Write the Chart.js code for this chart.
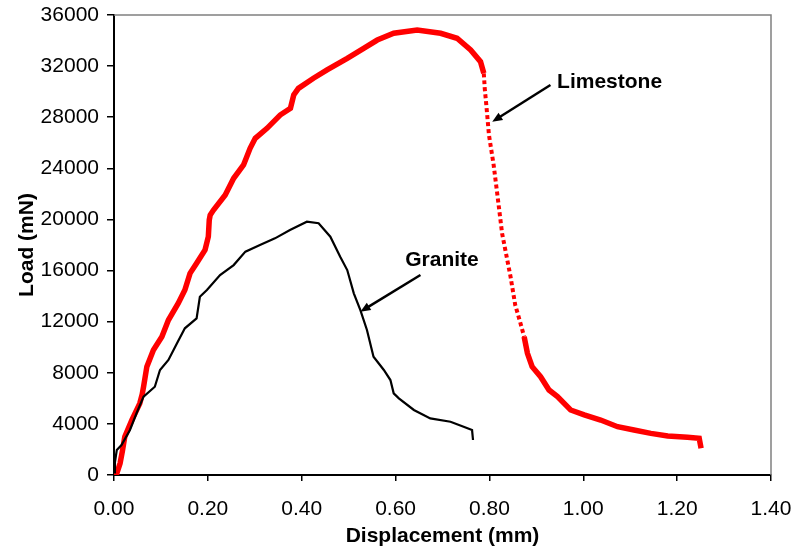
<!DOCTYPE html>
<html>
<head>
<meta charset="utf-8">
<script src="https://cdn.jsdelivr.net/npm/chart.js@4"></script>
<style>
  html, body { margin: 0; padding: 0; background: #fff; }
  #wrap { width: 804px; height: 548px; }
</style>
</head>
<body>
<div id="wrap"><canvas id="loadChart"></canvas></div>
<script>
// Limestone curve (displacement mm, load mN)
const limeX = [0.000, 0.006, 0.013, 0.018, 0.023, 0.038, 0.055, 0.060, 0.063, 0.070, 0.084, 0.102, 0.116, 0.137, 0.151, 0.162, 0.176, 0.194, 0.201, 0.203, 0.205, 0.212, 0.237, 0.255, 0.276, 0.290, 0.301, 0.326, 0.354, 0.376, 0.383, 0.393, 0.425, 0.454, 0.497, 0.532, 0.561, 0.596, 0.646, 0.696, 0.731, 0.760, 0.781, 0.788, 0.790, 0.794, 0.799, 0.809, 0.817, 0.827, 0.845, 0.855, 0.866, 0.874, 0.881, 0.891, 0.909, 0.927, 0.945, 0.973, 1.002, 1.037, 1.073, 1.108, 1.144, 1.180, 1.222, 1.247, 1.251];
const limeY = [0, 130, 920, 1900, 3000, 4300, 5610, 6300, 6910, 8480, 9780, 10820, 12130, 13440, 14480, 15780, 16570, 17610, 18650, 19960, 20350, 20740, 21910, 23220, 24260, 25570, 26350, 27130, 28170, 28700, 29740, 30260, 31050, 31700, 32610, 33390, 34040, 34570, 34830, 34570, 34180, 33260, 32350, 31440, 30260, 28700, 26610, 24260, 21910, 18910, 15520, 13300, 11900, 10820, 9520, 8480, 7690, 6650, 6130, 5090, 4700, 4300, 3780, 3520, 3260, 3050, 2950, 2870, 2090];

// Granite curve
const graniteX = [0.000, 0.002, 0.006, 0.016, 0.034, 0.048, 0.063, 0.087, 0.098, 0.116, 0.134, 0.151, 0.176, 0.183, 0.198, 0.226, 0.255, 0.280, 0.311, 0.343, 0.375, 0.411, 0.436, 0.461, 0.482, 0.497, 0.511, 0.525, 0.539, 0.553, 0.575, 0.589, 0.596, 0.607, 0.639, 0.674, 0.717, 0.745, 0.763, 0.765];
const graniteY = [200, 1000, 1960, 2350, 3520, 4830, 6130, 6910, 8220, 9000, 10300, 11480, 12260, 13950, 14480, 15650, 16430, 17480, 18000, 18520, 19170, 19820, 19700, 18650, 17080, 16040, 14220, 12910, 11350, 9260, 8220, 7430, 6390, 6000, 5090, 4430, 4170, 3780, 3520, 2740];

const xTicks = [0, 0.2, 0.4, 0.6, 0.8, 1.0, 1.2, 1.4];
const yTicks = [0, 4000, 8000, 12000, 16000, 20000, 24000, 28000, 32000, 36000];

// labels with arrows, in data units
const notes = [
    { text: "Granite", x: 0.699, y: 16826, from: [0.653, 15650], to: [0.525, 12780] },
    { text: "Limestone", x: 1.056, y: 30720, from: [0.930, 30520], to: [0.806, 27650] }
];

const FONT = "'Liberation Sans', Arial, sans-serif";

const limeData = limeX.map((x, i) => ({ x, y: limeY[i] }));
const graniteData = graniteX.map((x, i) => ({ x, y: graniteY[i] }));

// steep part of the limestone curve is drawn as separate squares
const steep = c => c.p0.parsed.x >= 0.788 && c.p1.parsed.x <= 0.875;

// gray frame on top and right, plus annotations
const extras = {
    id: "extras",
    afterDraw(chart) {
        const { ctx, chartArea: a, scales } = chart;
        ctx.save();
        ctx.strokeStyle = "#808080";
        ctx.lineWidth = 1.5;
        ctx.beginPath();
        ctx.moveTo(a.left, a.top);
        ctx.lineTo(a.right, a.top);
        ctx.lineTo(a.right, a.bottom);
        ctx.stroke();

        notes.forEach(n => {
            const tx = scales.x.getPixelForValue(n.x);
            const ty = scales.y.getPixelForValue(n.y);
            ctx.fillStyle = "#000";
            ctx.font = "bold 21px " + FONT;
            ctx.textAlign = "center";
            ctx.textBaseline = "middle";
            ctx.fillText(n.text, tx, ty);

            const x1 = scales.x.getPixelForValue(n.from[0]);
            const y1 = scales.y.getPixelForValue(n.from[1]);
            const x2 = scales.x.getPixelForValue(n.to[0]);
            const y2 = scales.y.getPixelForValue(n.to[1]);
            const ang = Math.atan2(y2 - y1, x2 - x1);
            const head = 11;
            ctx.strokeStyle = "#000";
            ctx.lineWidth = 2.5;
            ctx.beginPath();
            ctx.moveTo(x1, y1);
            ctx.lineTo(x2 - Math.cos(ang) * head * 0.8, y2 - Math.sin(ang) * head * 0.8);
            ctx.stroke();
            ctx.beginPath();
            ctx.moveTo(x2, y2);
            ctx.lineTo(x2 - head * Math.cos(ang - 0.4), y2 - head * Math.sin(ang - 0.4));
            ctx.lineTo(x2 - head * Math.cos(ang + 0.4), y2 - head * Math.sin(ang + 0.4));
            ctx.closePath();
            ctx.fill();
        });
        ctx.restore();
    }
};

new Chart(document.getElementById("loadChart"), {
    type: "scatter",
    data: {
        datasets: [
            {
                label: "Granite",
                data: graniteData,
                showLine: true,
                borderColor: "#000",
                borderWidth: 2.2,
                pointRadius: 0,
                tension: 0
            },
            {
                label: "Limestone",
                data: limeData,
                showLine: true,
                borderColor: "#ff0000",
                borderWidth: 5.5,
                pointRadius: 0,
                tension: 0,
                segment: {
                    borderDash: c => steep(c) ? [4, 3] : undefined,
                    borderWidth: c => steep(c) ? 4 : undefined
                }
            }
        ]
    },
    options: {
        responsive: true,
        maintainAspectRatio: false,
        animation: false,
        layout: { padding: { top: 15, right: 33, left: 0, bottom: 0 } },
        plugins: {
            legend: { display: false },
            tooltip: { enabled: false }
        },
        scales: {
            x: {
                type: "linear",
                min: 0,
                max: 1.4,
                afterBuildTicks: s => { s.ticks = xTicks.map(v => ({ value: v })); },
                afterFit: s => { s.height = 73; s.paddingRight = 0; },
                grid: { drawOnChartArea: false, drawTicks: true, tickLength: 6, color: "#000", lineWidth: 1.5 },
                border: { color: "#000", width: 2 },
                ticks: {
                    color: "#000",
                    font: { family: FONT, size: 21 },
                    padding: 16,
                    maxRotation: 0,
                    callback: v => v.toFixed(2)
                },
                title: {
                    display: true,
                    text: "Displacement (mm)",
                    color: "#000",
                    font: { family: FONT, size: 21, weight: "bold" },
                    padding: { top: 0, bottom: -1 }
                }
            },
            y: {
                type: "linear",
                min: 0,
                max: 36000,
                afterBuildTicks: s => { s.ticks = yTicks.map(v => ({ value: v })); },
                afterFit: s => { s.width = 114; s.paddingTop = 12; s.paddingBottom = 12; },
                grid: { drawOnChartArea: false, drawTicks: true, tickLength: 7, color: "#000", lineWidth: 1.5 },
                border: { color: "#000", width: 2 },
                ticks: {
                    color: "#000",
                    font: { family: FONT, size: 21 },
                    padding: 8,
                    callback: v => String(v)
                },
                title: {
                    display: true,
                    text: "Load (mN)",
                    color: "#000",
                    font: { family: FONT, size: 21, weight: "bold" },
                    padding: { top: 15, bottom: 0 }
                }
            }
        }
    },
    plugins: [extras]
});
</script>
</body>
</html>
